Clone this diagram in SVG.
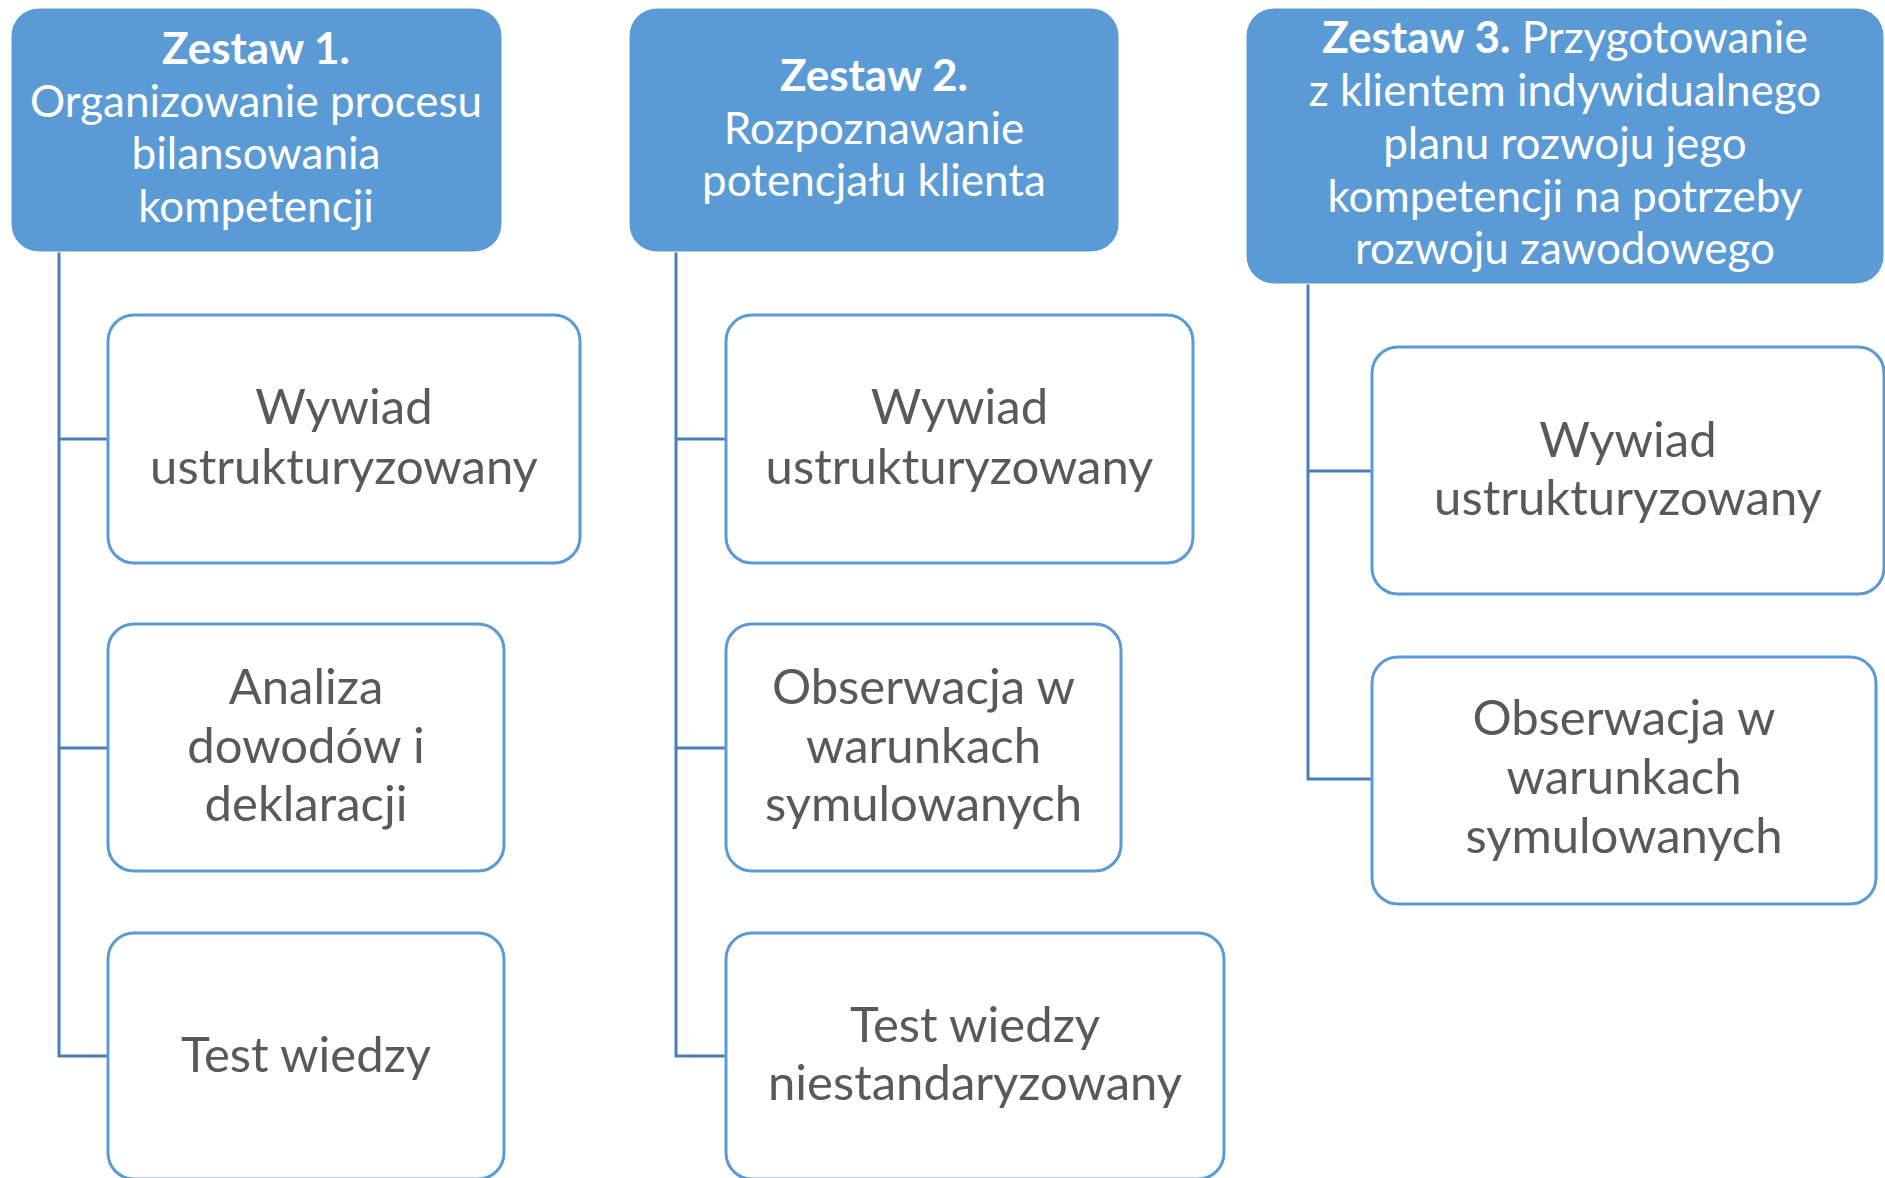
<svg xmlns="http://www.w3.org/2000/svg" width="1885" height="1178" viewBox="0 0 1885 1178">
<style>
.hdr{fill:#5B9BD5;stroke:#ffffff;stroke-width:1}
.box{fill:#ffffff;stroke:#5B9BD5;stroke-width:3}
.ht{font-family:Lato,"Liberation Sans",sans-serif;font-size:44px;fill:#ffffff;text-anchor:middle}
.ht .b{font-weight:bold}
.ct{font-family:Lato,"Liberation Sans",sans-serif;font-size:49px;fill:#595959;text-anchor:middle}
.con{fill:none;stroke:#4A7EBB;stroke-width:3}
</style>
<rect width="1885" height="1178" fill="#ffffff"/>
<g id="connectors">
<path class="con" d="M59,252 V1056 H108 M59,439 H108 M59,748 H108"/>
<path class="con" d="M676,252 V1056 H726 M676,439 H726 M676,748 H726"/>
<path class="con" d="M1308,284 V779 H1372 M1308,471 H1372"/>
</g>
<g id="h1">
<rect class="hdr" x="11" y="8" width="491" height="244" rx="28"/>
<text class="ht"><tspan class="b" x="256" y="64">Zestaw 1.</tspan><tspan x="256" y="117">Organizowanie procesu</tspan><tspan x="256" y="169">bilansowania</tspan><tspan x="256" y="222">kompetencji</tspan></text>
</g>
<g id="h2">
<rect class="hdr" x="629" y="8" width="490" height="244" rx="28"/>
<text class="ht"><tspan class="b" x="874" y="91">Zestaw 2.</tspan><tspan x="874" y="144">Rozpoznawanie</tspan><tspan x="874" y="196">potencjału klienta</tspan></text>
</g>
<g id="h3">
<rect class="hdr" x="1246" y="8" width="638" height="276" rx="28"/>
<text class="ht"><tspan x="1565" y="53"><tspan class="b">Zestaw 3.</tspan> Przygotowanie</tspan><tspan x="1565" y="106">z klientem indywidualnego</tspan><tspan x="1565" y="159">planu rozwoju jego</tspan><tspan x="1565" y="212">kompetencji na potrzeby</tspan><tspan x="1565" y="264">rozwoju zawodowego</tspan></text>
</g>
<g id="c11">
<rect class="box" x="108" y="315" width="472" height="248" rx="26"/>
<text class="ct"><tspan x="344" y="424">Wywiad</tspan><tspan x="344" y="484">ustrukturyzowany</tspan></text>
</g>
<g id="c12">
<rect class="box" x="108" y="624" width="396" height="247" rx="26"/>
<text class="ct"><tspan x="306" y="704">Analiza</tspan><tspan x="306" y="763">dowodów i</tspan><tspan x="306" y="821">deklaracji</tspan></text>
</g>
<g id="c13">
<rect class="box" x="108" y="933" width="396" height="246" rx="26"/>
<text class="ct"><tspan x="306" y="1072">Test wiedzy</tspan></text>
</g>
<g id="c21">
<rect class="box" x="726" y="315" width="467" height="248" rx="26"/>
<text class="ct"><tspan x="959.5" y="424">Wywiad</tspan><tspan x="959.5" y="484">ustrukturyzowany</tspan></text>
</g>
<g id="c22">
<rect class="box" x="726" y="624" width="395" height="247" rx="26"/>
<text class="ct"><tspan x="923.5" y="704">Obserwacja w</tspan><tspan x="923.5" y="763">warunkach</tspan><tspan x="923.5" y="821">symulowanych</tspan></text>
</g>
<g id="c23">
<rect class="box" x="726" y="933" width="498" height="246" rx="26"/>
<text class="ct"><tspan x="975" y="1042">Test wiedzy</tspan><tspan x="975" y="1100">niestandaryzowany</tspan></text>
</g>
<g id="c31">
<rect class="box" x="1372" y="347" width="512" height="247" rx="26"/>
<text class="ct"><tspan x="1628" y="457">Wywiad</tspan><tspan x="1628" y="515">ustrukturyzowany</tspan></text>
</g>
<g id="c32">
<rect class="box" x="1372" y="657" width="504" height="247" rx="26"/>
<text class="ct"><tspan x="1624" y="735">Obserwacja w</tspan><tspan x="1624" y="794">warunkach</tspan><tspan x="1624" y="853">symulowanych</tspan></text>
</g>
</svg>
